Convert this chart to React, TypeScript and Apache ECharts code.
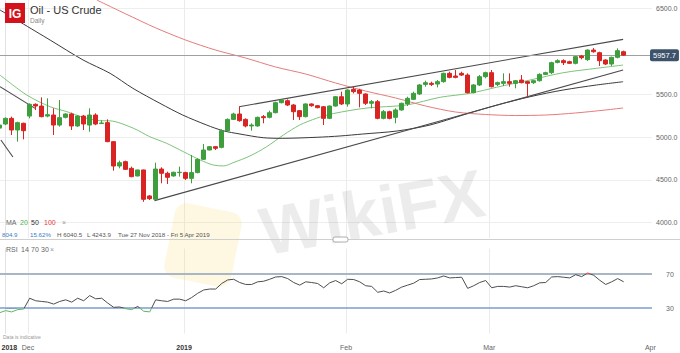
import React, { useEffect, useRef } from "react";
import * as echarts from "echarts";

// ---------- data ----------
const FIRST_INDEX = -1; // candle index of the first (partly hidden) candle; 0 = Tue 27 Nov 2018

const opens = [5105, 5152.8, 5219, 5083, 5161, 5246, 5383, 5363, 5246, 5258, 5141, 5231, 5270, 5130, 5246, 5141, 5258, 5158, 5169, 4947, 4662, 4713, 4635, 4546, 4616, 4312, 4273, 4627, 4577, 4546, 4585, 4585, 4518, 4585, 4740, 4849, 4888, 4880, 5075, 5207, 5270, 5207, 5130, 5130, 5239, 5231, 5285, 5402, 5425, 5375, 5309, 5239, 5387, 5367, 5355, 5219, 5363, 5472, 5387, 5558, 5550, 5504, 5395, 5414, 5219, 5297, 5231, 5317, 5387, 5441, 5504, 5616, 5628, 5620, 5648, 5745, 5714, 5745, 5725, 5519, 5609, 5706, 5753, 5616, 5628, 5648, 5628, 5667, 5648, 5636, 5659, 5733, 5753, 5873, 5893, 5881, 5862, 5947, 5905, 6017, 5986, 5901, 5854, 5932, 5998];
const closes = [5141, 5219, 5083, 5169, 5075, 5383, 5363, 5239, 5262, 5141, 5227, 5270, 5130, 5246, 5153, 5258, 5153, 5165, 4947, 4662, 4701, 4623, 4538, 4616, 4273, 4281, 4627, 4577, 4530, 4589, 4589, 4518, 4585, 4740, 4849, 4888, 4869, 5075, 5207, 5270, 5192, 5130, 5141, 5231, 5227, 5285, 5402, 5433, 5375, 5297, 5239, 5387, 5367, 5344, 5219, 5363, 5472, 5387, 5550, 5531, 5511, 5395, 5414, 5219, 5297, 5219, 5317, 5395, 5453, 5511, 5609, 5636, 5616, 5648, 5745, 5698, 5698, 5725, 5519, 5609, 5706, 5753, 5589, 5636, 5648, 5628, 5659, 5636, 5628, 5659, 5733, 5753, 5870, 5893, 5870, 5862, 5940, 5928, 6017, 5998, 5893, 5854, 5932, 6010, 5957.7];
const lows = [5098, 5140, 5025, 4947, 4974, 5219, 5316, 5231, 5231, 5025, 5122, 5219, 5083, 5120, 5083, 5063, 5140, 5153, 4940, 4608, 4635, 4615, 4530, 4540, 4243.9, 4265, 4265, 4460, 4452, 4538, 4538, 4499, 4460, 4577, 4733, 4845, 4849, 4869, 5063, 5200, 5180, 5114, 5075, 5122, 5161, 5219, 5278, 5394, 5363, 5200, 5200, 5231, 5355, 5336, 5141, 5210, 5355, 5375, 5356, 5510, 5348, 5375, 5336, 5208, 5208, 5208, 5161, 5309, 5363, 5433, 5492, 5589, 5597, 5581, 5636, 5687, 5687, 5714, 5511, 5511, 5597, 5687, 5581, 5597, 5597, 5589, 5570, 5628, 5472, 5620, 5648, 5725, 5737, 5862, 5842, 5854, 5850, 5909, 5890, 5986, 5831, 5842, 5831, 5920, 5950];
const highs = [5150, 5230, 5239, 5180, 5169, 5394, 5394, 5464, 5453, 5336, 5433, 5278, 5285, 5258, 5258, 5336, 5278, 5196, 5207, 4950, 4725, 4725, 4655, 4620, 4620, 4323, 4701, 4647, 4596, 4596, 4655, 4596, 4791, 4752, 4919, 4896, 4896, 5091, 5219, 5285, 5355, 5219, 5161, 5239, 5258, 5309, 5414, 5441, 5441, 5387, 5316, 5394, 5394, 5375, 5363, 5370, 5480, 5531, 5558, 5589, 5565, 5511, 5433, 5433, 5316, 5309, 5336, 5402, 5472, 5531, 5620, 5659, 5647, 5667, 5753, 5764, 5784, 5764, 5745, 5620, 5725, 5764, 5784, 5648, 5745, 5745, 5667, 5725, 5656, 5667, 5745, 5764, 5881, 5909, 5909, 5893, 5947, 5959, 6025, 6040.5, 5998, 5909, 5940, 6037, 6010];

const rsiValues = [24.5, 26.9, 25.4, 28.1, 28.8, 41.5, 38.5, 37.7, 36.9, 34.6, 37.7, 39.6, 36.9, 41.5, 38.5, 44.6, 40.8, 41.5, 35.8, 30.8, 31.2, 29.2, 28.1, 31.9, 26.2, 25.4, 39.6, 38.5, 37.7, 40.4, 40.4, 38.5, 42.3, 47.3, 51.2, 52.3, 52.3, 58.8, 63.0, 63.8, 60.0, 57.7, 57.7, 60.8, 61.5, 63.8, 66.5, 66.9, 64.6, 60.0, 56.9, 60.8, 60.0, 58.8, 53.8, 59.6, 62.3, 58.5, 63.8, 63.5, 60.8, 56.2, 55.4, 48.5, 50.0, 47.7, 50.8, 54.6, 56.9, 59.2, 63.5, 63.8, 64.2, 65.4, 67.7, 65.4, 65.8, 66.2, 53.1, 56.2, 60.0, 62.3, 53.8, 55.4, 55.4, 54.6, 56.2, 55.0, 53.8, 56.2, 59.6, 60.0, 66.5, 66.9, 66.2, 65.4, 69.2, 66.9, 71.2, 68.5, 62.7, 57.7, 60.8, 64.6, 60.8];

// moving averages: [candle index, price]
const ma20 = [[-0.95, 5725], [3.5, 5492], [7.4, 5355], [10.2, 5297], [12.9, 5231], [15.7, 5192], [17.4, 5190], [21.3, 5103], [24, 5005], [26.8, 4928], [29.6, 4830], [32.4, 4733], [34.6, 4674], [36.3, 4663], [37.9, 4701], [40.7, 4779], [43.5, 4888], [46.3, 5025], [49, 5141], [51.8, 5220], [54.6, 5275], [60.2, 5340], [66.8, 5375], [72.4, 5465], [77.4, 5512], [81.8, 5582], [87.4, 5667], [92.9, 5752], [98.5, 5804], [102.9, 5842]];
const ma50 = [[-0.95, 6485], [7.4, 6134], [12.9, 5901], [17.4, 5745], [21.2, 5570], [25.7, 5395], [29.5, 5258], [33.5, 5141], [36.2, 5075], [39.05, 5036], [42.9, 4993], [46.2, 4986], [51.9, 4998], [55.7, 5013], [59.5, 5036], [65.2, 5071], [70.7, 5141], [76.2, 5258], [81.9, 5375], [87.4, 5472], [92.9, 5550], [98.5, 5609], [102.9, 5647]];
const ma100 = [[15.2, 6601], [20, 6440], [25, 6276], [30, 6134], [35, 6017], [40, 5924], [45, 5819], [50, 5737], [55, 5632], [60, 5538], [65, 5457], [70, 5363], [75, 5293], [80, 5264], [85, 5252], [90, 5258], [95, 5282], [100, 5317], [102.9, 5340]];

// drawn trend lines
const upperChannel = [[38.9, 5355], [102.9, 6142]];
const lowerChannel = [[24.8, 4258], [102.9, 5784]];
const oldLineA = [[-0.95, 5589], [4.9, 5336]];
const oldLineB = [[-0.8, 4966], [1.2, 4768]];

const lastPrice = 5957.7;
const priceTicks = [4000, 4500, 5000, 5500, 6500];
const rsiTicks = [30, 70];
const monthLines = [3.72, 29.72, 56.72, 80.6];
const xLabelPos = [0.6, 3.72, 29.72, 56.72, 80.6, 107.45];
const xLabelText = ["2018", "Dec", "2019", "Feb", "Mar", "Apr"];

const X_MIN = -0.95;
const X_MAX = 107.717;

const FONT = "Liberation Sans, Arial, sans-serif";

export default function App() {
  const ref = useRef<HTMLDivElement>(null);

  useEffect(() => {
    if (!ref.current) return;
    const chart = echarts.init(ref.current, null, { renderer: "svg" });

    const candleData = opens.map((o, k) => [FIRST_INDEX + k, o, closes[k], lows[k], highs[k]]);
    const rsiData = rsiValues.map((v, k) => [FIRST_INDEX + k, v]);

    const trend = (data: number[][]) => ({
      type: "line",
      xAxisIndex: 0,
      yAxisIndex: 0,
      data,
      symbol: "none",
      silent: true,
      lineStyle: { color: "#4a4a4a", width: 1.1 },
      z: 4,
    });

    const txt = (x: number, y: number, text: string, fill: string, fontSize: number, extra: any = {}) => ({
      type: "text",
      x,
      y,
      z: 100,
      silent: true,
      style: { text, fill, fontSize, fontFamily: FONT, verticalAlign: "middle", align: "left", ...extra },
    });

    const option: any = {
      animation: false,
      textStyle: { fontFamily: FONT },
      grid: [
        { left: 0, top: 0, width: 652, height: 238, outerBoundsMode: "none" },
        { left: 0, top: 248.5, width: 652, height: 85, outerBoundsMode: "none" },
      ],
      xAxis: [
        {
          type: "value",
          gridIndex: 0,
          min: X_MIN,
          max: X_MAX,
          axisLine: { show: false },
          axisTick: { show: false, customValues: monthLines },
          axisLabel: { show: false },
          splitLine: { show: true, lineStyle: { color: "#ebebeb", width: 1 } },
        },
        {
          type: "value",
          gridIndex: 1,
          min: X_MIN,
          max: X_MAX,
          axisLine: { show: false },
          axisTick: { show: false, customValues: monthLines },
          axisLabel: {
            show: true,
            customValues: xLabelPos,
            margin: 10,
            fontSize: 7,
            color: "#666",
            formatter: (v: number) => {
              const k = xLabelPos.findIndex((p) => Math.abs(p - v) < 0.01);
              const t = k >= 0 ? xLabelText[k] : "";
              return /^\d/.test(t) ? "{y|" + t + "}" : t;
            },
            rich: { y: { fontSize: 7, color: "#333", fontWeight: "bold", fontFamily: FONT } },
          },
          splitLine: { show: true, lineStyle: { color: "#ebebeb", width: 1 } },
        },
      ],
      yAxis: [
        {
          type: "value",
          gridIndex: 0,
          position: "right",
          min: 3821,
          max: 6602,
          axisLine: { show: true, lineStyle: { color: "#e2e2e2" } },
          axisTick: { show: false, customValues: priceTicks },
          axisLabel: {
            customValues: priceTicks,
            formatter: (v: number) => v.toFixed(1),
            color: "#666",
            fontSize: 7,
            margin: 4,
          },
          splitLine: { show: true, lineStyle: { color: "#eeeeee" } },
        },
        {
          type: "value",
          gridIndex: 1,
          position: "right",
          min: 0,
          max: 100,
          axisLine: { show: true, lineStyle: { color: "#e2e2e2" } },
          axisTick: { show: true, customValues: rsiTicks, length: 11, lineStyle: { color: "#9aa6b2" } },
          axisLabel: { customValues: rsiTicks, color: "#666", fontSize: 7, margin: 14 },
          splitLine: { show: false },
        },
      ],
      visualMap: {
        show: false,
        type: "piecewise",
        seriesIndex: 8,
        dimension: 1,
        pieces: [
          { lt: 30, color: "#5cb85c" },
          { gte: 30, lte: 70, color: "#4d4d4d" },
          { gt: 70, color: "#e23b3b" },
        ],
      },
      series: [
        {
          type: "candlestick",
          xAxisIndex: 0,
          yAxisIndex: 0,
          data: candleData,
          encode: { x: 0, y: [1, 2, 3, 4] },
          barWidth: 4,
          clip: true,
          z: 5,
          itemStyle: {
            color: "#3e9e3e",
            color0: "#d92424",
            borderColor: "#3e9e3e",
            borderColor0: "#d92424",
            borderWidth: 1,
          },
          markLine: {
            silent: true,
            symbol: "none",
            data: [{ yAxis: lastPrice }],
            lineStyle: { color: "#a0a0a0", width: 1, type: "solid" },
            label: {
              show: true,
              position: "end",
              formatter: () => lastPrice.toFixed(1),
              backgroundColor: "#3d526b",
              color: "#ffffff",
              fontSize: 7.5,
              padding: [2, 3, 2, 3],
              borderRadius: 2,
              distance: -2,
            },
          },
        },
        {
          type: "line",
          xAxisIndex: 0,
          yAxisIndex: 0,
          data: ma20,
          symbol: "none",
          smooth: 0.3,
          silent: true,
          lineStyle: { color: "#7cc47a", width: 1 },
          z: 3,
        },
        {
          type: "line",
          xAxisIndex: 0,
          yAxisIndex: 0,
          data: ma50,
          symbol: "none",
          smooth: 0.3,
          silent: true,
          lineStyle: { color: "#3a3a3a", width: 1 },
          z: 3,
        },
        {
          type: "line",
          xAxisIndex: 0,
          yAxisIndex: 0,
          data: ma100,
          symbol: "none",
          smooth: 0.3,
          silent: true,
          lineStyle: { color: "#e57b7b", width: 1 },
          z: 3,
        },
        trend(upperChannel),
        trend(lowerChannel),
        trend(oldLineA),
        trend(oldLineB),
        {
          type: "line",
          xAxisIndex: 1,
          yAxisIndex: 1,
          data: rsiData,
          symbol: "none",
          silent: true,
          lineStyle: { width: 1 },
          z: 5,
          markLine: {
            silent: true,
            symbol: "none",
            label: { show: false },
            data: [
              { yAxis: 70, lineStyle: { color: "#a9b6c4", width: 2, type: "solid" } },
              { yAxis: 30, lineStyle: { color: "#7c9bd0", width: 1.5, type: "solid" } },
            ],
          },
        },
      ],
      graphic: [
        // watermark
        {
          type: "rect",
          x: 203,
          y: 245,
          rotation: -0.2,
          z: 1,
          silent: true,
          shape: { x: -34, y: -38, width: 68, height: 76, r: 12 },
          style: { fill: "rgba(250,205,70,0.16)" },
        },
        {
          type: "text",
          x: 372,
          y: 212,
          rotation: 0.18,
          z: 1,
          silent: true,
          style: {
            text: "WikiFX",
            fill: "rgba(0,0,0,0.075)",
            fontSize: 68,
            fontWeight: "bold",
            fontFamily: FONT,
            align: "center",
            verticalAlign: "middle",
          },
        },
        // header
        {
          type: "rect",
          x: 5,
          y: 3,
          z: 100,
          silent: true,
          shape: { x: 0, y: 0, width: 20, height: 20 },
          style: { fill: "#d3121c" },
        },
        txt(15, 13.5, "IG", "#ffffff", 12, { align: "center", fontWeight: "bold" }),
        txt(30, 10, "Oil - US Crude", "#333333", 11),
        txt(30, 20, "Daily", "#888888", 6.5),
        // MA legend
        txt(6, 222, "MA", "#666666", 7),
        txt(20, 222, "20", "#4caf50", 7),
        txt(31, 222, "50", "#333333", 7),
        txt(44, 222, "100", "#e53935", 7),
        txt(62, 222, "×", "#999999", 7),
        // info row
        txt(2, 234.5, "804.9", "#3b7cc4", 6.2),
        txt(30, 234.5, "15.62%", "#3b7cc4", 6.2),
        txt(57, 234.5, "H 6040.5", "#555555", 6.2),
        txt(87, 234.5, "L 4243.9", "#555555", 6.2),
        txt(118, 234.5, "Tue 27 Nov 2018 - Fri 5 Apr 2019", "#555555", 6.2),
        {
          type: "line",
          z: 100,
          silent: true,
          shape: { x1: 0, y1: 239.5, x2: 680, y2: 239.5 },
          style: { stroke: "#cfcfcf", lineWidth: 1 },
        },
        {
          type: "rect",
          x: 333,
          y: 237,
          z: 101,
          silent: true,
          shape: { x: 0, y: 0, width: 15, height: 5, r: 2 },
          style: { fill: "#ffffff", stroke: "#9a9a9a", lineWidth: 0.8 },
        },
        // RSI legend
        txt(6, 249, "RSI", "#666666", 7),
        txt(21, 249, "14", "#666666", 7),
        txt(31, 249, "70", "#666666", 7),
        txt(41, 249, "30", "#666666", 7),
        txt(50, 249, "×", "#999999", 7),
        txt(3, 336.5, "Data is indicative", "#999999", 5),
      ],
    };

    chart.setOption(option);
    return () => chart.dispose();
  }, []);

  return (
    <div
      ref={ref}
      style={{ position: "fixed", left: 0, top: 0, width: 680, height: 353, background: "#ffffff" }}
    />
  );
}
